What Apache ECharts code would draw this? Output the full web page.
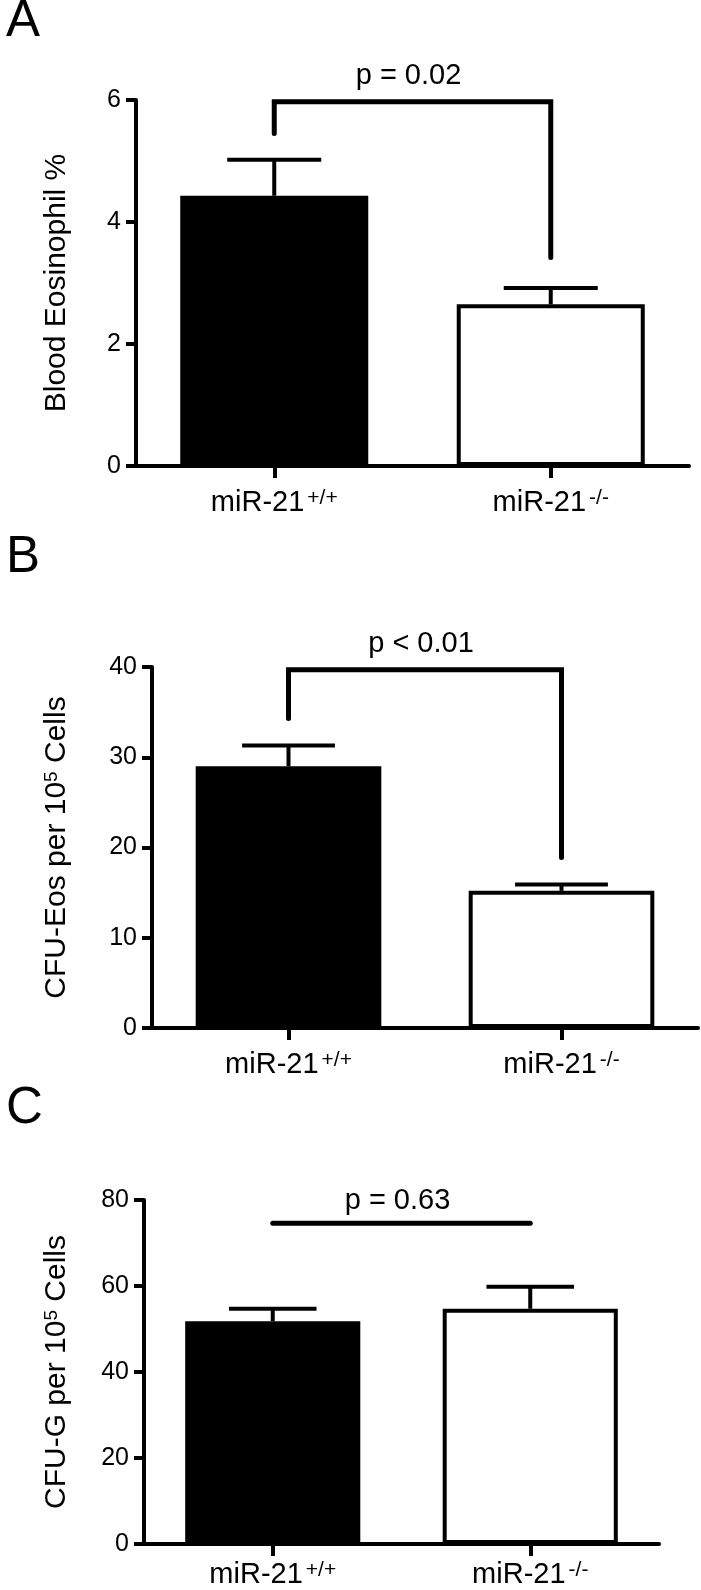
<!DOCTYPE html>
<html><head><meta charset="utf-8">
<script src="https://cdn.jsdelivr.net/npm/echarts@6/dist/echarts.min.js"></script>
<style>html,body{margin:0;padding:0;background:#fff}#c{width:701px;height:1590px}</style>
</head><body><div id="c"></div><script>
// ---- data ----
const categories = ['miR-21+/+', 'miR-21-/-'];
const aMean = [4.43, 2.65];
const aErrTop = [5.02, 2.92];
const bMean = [29.0, 15.2];
const bErrTop = [31.3, 15.9];
const cMean = [51.8, 54.7];
const cErrTop = [54.7, 59.8];
// bracket: [left leg end, bridge level, right leg end]
const aBracket = [5.45, 5.97, 3.42];
const bBracket = [34.3, 39.7, 18.9];
const cBracket = [74.6, 74.6, 74.6];
const pLabels = ['p = 0.02', 'p < 0.01', 'p = 0.63'];
const yTitles = ['Blood Eosinophil %', 'CFU-Eos per 10{s|5} Cells', 'CFU-G per 10{s|5} Cells'];
const yMax = [6, 40, 80];
const yInterval = [2, 10, 20];
const panelLetters = ['A', 'B', 'C'];

// ---- layout ----
const F = '"Liberation Sans", Arial, Helvetica, sans-serif';
const grids = [
  {left: 136, top: 100, width: 553, height: 366},
  {left: 152, top: 667, width: 546, height: 361},
  {left: 144, top: 1200, width: 515, height: 344}
];
const nameGaps = [64, 80, 72];
const labelMargins = [22, 22, 16];
const pOffsets = [26, 26, 22];
const letterY = [25, 561, 1112];
const means = [aMean, bMean, cMean];
const errTops = [aErrTop, bErrTop, cErrTop];
const brackets = [aBracket, bBracket, cBracket];

const option = {
  animation: false,
  backgroundColor: '#fff',
  grid: grids.map(g => Object.assign({containLabel: false, outerBoundsMode: 'none'}, g)),
  xAxis: grids.map((g, i) => ({
    type: 'category', gridIndex: i, data: categories,
    axisLine: {lineStyle: {color: '#000', width: 4}},
    axisTick: {show: true, alignWithLabel: true, length: 12, lineStyle: {color: '#000', width: 4}},
    axisLabel: {
      margin: labelMargins[i], color: '#000',
      formatter: v => '{b|' + v.slice(0, 6) + '}{s|' + v.slice(6) + '}',
      rich: {
        b: {fontSize: 29, fontFamily: F, color: '#000'},
        s: {fontSize: 21, fontFamily: F, color: '#000', verticalAlign: 'top', padding: [0, 0, 0, 3]}
      }
    },
    splitLine: {show: false}
  })),
  yAxis: grids.map((g, i) => ({
    type: 'value', gridIndex: i, min: 0, max: yMax[i], interval: yInterval[i],
    name: yTitles[i], nameLocation: 'middle', nameRotate: 90, nameGap: nameGaps[i],
    nameTextStyle: {fontSize: 30, fontFamily: F, color: '#000',
      rich: {s: {fontSize: 19, fontFamily: F, color: '#000', verticalAlign: 'top'}}},
    axisLine: {show: true, lineStyle: {color: '#000', width: 4}},
    axisTick: {show: true, length: 10, lineStyle: {color: '#000', width: 4}},
    axisLabel: {margin: 15, fontSize: 25, fontFamily: F, color: '#000'},
    splitLine: {show: false}
  })),
  graphic: panelLetters.map((t, i) => ({
    type: 'text', left: 6, top: letterY[i] - 29,
    style: {text: t, font: '51px ' + F, fill: '#000'}
  })),
  series: []
};

for (let i = 0; i < 3; i++) {
  option.series.push({
    type: 'bar', xAxisIndex: i, yAxisIndex: i, barWidth: '68%',
    data: means[i].map((v, k) => ({
      value: v,
      itemStyle: {color: k === 0 ? '#000' : '#fff', borderColor: '#000', borderWidth: 4}
    })),
    z: 2
  });
  option.series.push({
    type: 'custom', xAxisIndex: i, yAxisIndex: i, z: 3,
    data: means[i].map((v, k) => [k, v, errTops[i][k]]),
    encode: {x: 0, y: [1, 2]},
    renderItem: (params, api) => {
      const p0 = api.coord([api.value(0), api.value(1)]);
      const p1 = api.coord([api.value(0), api.value(2)]);
      const half = api.size([1, 0])[0] * 0.17;
      const st = {stroke: '#000', lineWidth: 4, lineCap: 'butt'};
      return {type: 'group', children: [
        {type: 'line', shape: {x1: p0[0], y1: p0[1], x2: p1[0], y2: p1[1]}, style: st},
        {type: 'line', shape: {x1: p1[0] - half, y1: p1[1], x2: p1[0] + half, y2: p1[1]}, style: st}
      ]};
    }
  });
  const br = brackets[i];
  const pl = pLabels[i];
  const off = pOffsets[i];
  option.series.push({
    type: 'custom', xAxisIndex: i, yAxisIndex: i, z: 4,
    data: [[0, br[0], br[1], 1, br[2]]],
    encode: {x: [0, 3], y: [1, 2, 4]},
    renderItem: (params, api) => {
      const a = api.coord([api.value(0), api.value(1)]);
      const b = api.coord([api.value(0), api.value(2)]);
      const c = api.coord([api.value(3), api.value(2)]);
      const d = api.coord([api.value(3), api.value(4)]);
      return {type: 'group', children: [
        {type: 'polyline', shape: {points: [a, b, c, d]},
         style: {stroke: '#000', lineWidth: 5, fill: null, lineJoin: 'miter', lineCap: 'round'}},
        {type: 'text', x: (b[0] + c[0]) / 2 - 4, y: b[1] - off,
         style: {text: pl, font: '29px ' + F, fill: '#000', align: 'center', verticalAlign: 'middle'}}
      ]};
    }
  });
}

const chart = echarts.init(document.getElementById('c'), null, {renderer: 'canvas'});
chart.setOption(option);
</script></body></html>
